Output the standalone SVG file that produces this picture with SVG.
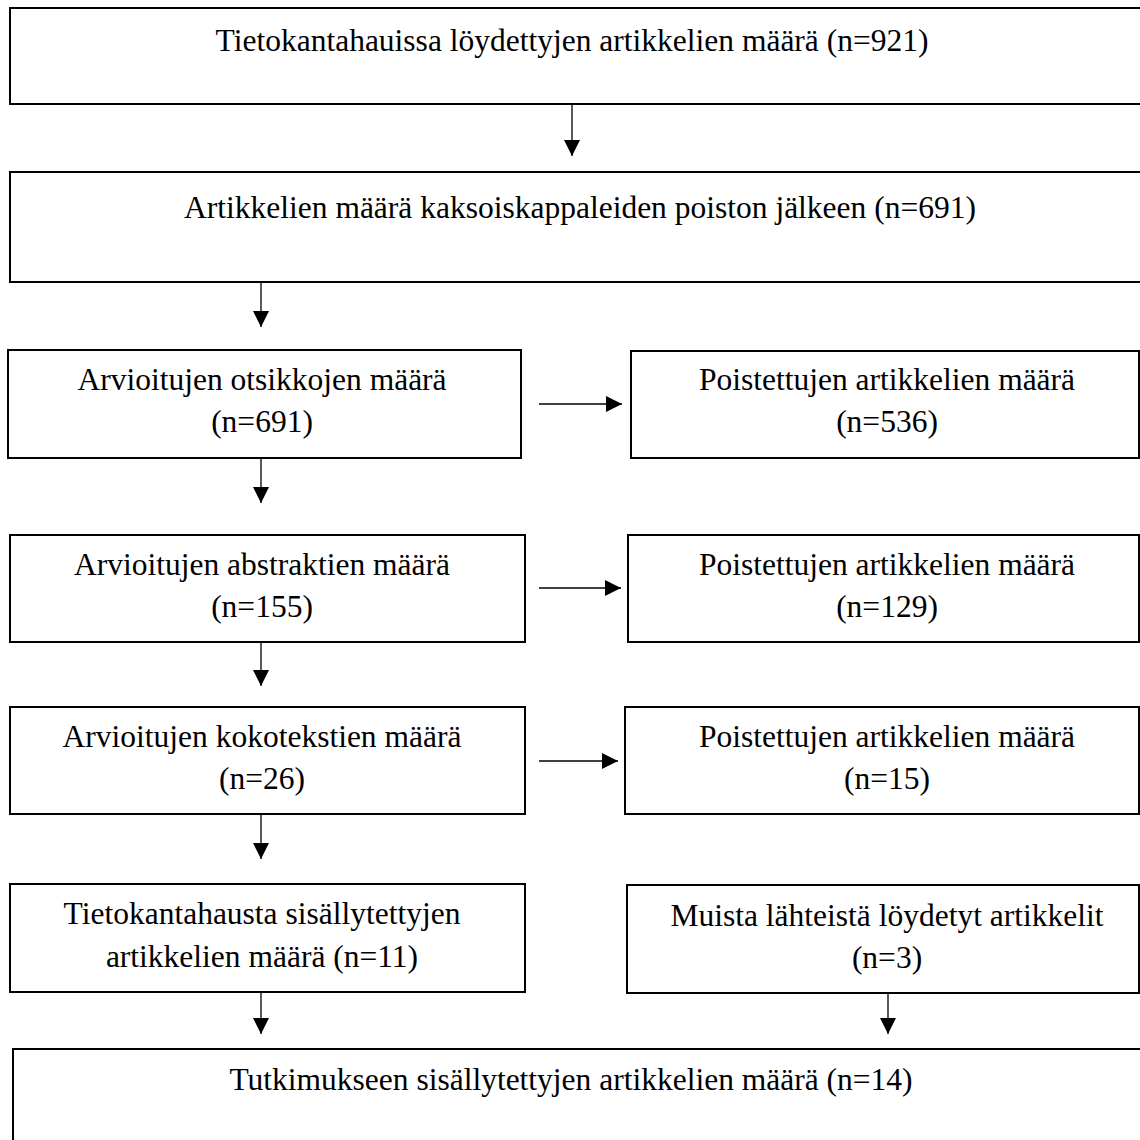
<svg xmlns="http://www.w3.org/2000/svg" width="1140" height="1140" viewBox="0 0 1140 1140">
<defs>
<style>
.box{fill:#fff;stroke:#000;stroke-width:2}
.t{font-family:"Liberation Serif","Times New Roman",serif;font-size:31.5px;fill:#000;text-anchor:middle}
.c{stroke:#000;stroke-width:1.3;fill:none}
</style>
<marker id="ah" markerWidth="16" markerHeight="16" refX="16" refY="8" orient="auto" markerUnits="userSpaceOnUse">
<path d="M0,0 L16,8 L0,16 Z" fill="#000"/>
</marker>
</defs>
<rect width="1140" height="1140" fill="#fff"/>
<g id="n1"><rect class="box" x="10" y="8" width="1140" height="96"/><text class="t" x="572" y="51">Tietokantahauissa löydettyjen artikkelien määrä (n=921)</text></g>
<g id="n2"><rect class="box" x="10" y="172" width="1140" height="110"/><text class="t" x="580" y="218">Artikkelien määrä kaksoiskappaleiden poiston jälkeen (n=691)</text></g>
<g id="n3"><rect class="box" x="8" y="350" width="513" height="108"/><text class="t" x="262" y="390">Arvioitujen otsikkojen määrä</text><text class="t" x="262" y="432">(n=691)</text></g>
<g id="n3r"><rect class="box" x="631" y="351" width="508" height="107"/><text class="t" x="887" y="390">Poistettujen artikkelien määrä</text><text class="t" x="887" y="432">(n=536)</text></g>
<g id="n4"><rect class="box" x="10" y="535" width="515" height="107"/><text class="t" x="262" y="575">Arvioitujen abstraktien määrä</text><text class="t" x="262" y="617">(n=155)</text></g>
<g id="n4r"><rect class="box" x="628" y="535" width="511" height="107"/><text class="t" x="887" y="575">Poistettujen artikkelien määrä</text><text class="t" x="887" y="617">(n=129)</text></g>
<g id="n5"><rect class="box" x="10" y="707" width="515" height="107"/><text class="t" x="262" y="747">Arvioitujen kokotekstien määrä</text><text class="t" x="262" y="789">(n=26)</text></g>
<g id="n5r"><rect class="box" x="625" y="707" width="514" height="107"/><text class="t" x="887" y="747">Poistettujen artikkelien määrä</text><text class="t" x="887" y="789">(n=15)</text></g>
<g id="n6"><rect class="box" x="10" y="884" width="515" height="108"/><text class="t" x="262" y="924">Tietokantahausta sisällytettyjen</text><text class="t" x="262" y="967">artikkelien määrä (n=11)</text></g>
<g id="n6r"><rect class="box" x="627" y="885" width="512" height="108"/><text class="t" x="887" y="926">Muista lähteistä löydetyt artikkelit</text><text class="t" x="887" y="968">(n=3)</text></g>
<g id="n7"><rect class="box" x="13" y="1049" width="1140" height="110"/><text class="t" x="571" y="1090">Tutkimukseen sisällytettyjen artikkelien määrä (n=14)</text></g>
<g id="connectors">
<line class="c" x1="572" y1="104" x2="572" y2="156" marker-end="url(#ah)"/>
<line class="c" x1="261" y1="282" x2="261" y2="327" marker-end="url(#ah)"/>
<line class="c" x1="539" y1="404" x2="622" y2="404" marker-end="url(#ah)"/>
<line class="c" x1="261" y1="458" x2="261" y2="503" marker-end="url(#ah)"/>
<line class="c" x1="539" y1="588" x2="621" y2="588" marker-end="url(#ah)"/>
<line class="c" x1="261" y1="642" x2="261" y2="686" marker-end="url(#ah)"/>
<line class="c" x1="539" y1="761" x2="618" y2="761" marker-end="url(#ah)"/>
<line class="c" x1="261" y1="814" x2="261" y2="859" marker-end="url(#ah)"/>
<line class="c" x1="261" y1="992" x2="261" y2="1034" marker-end="url(#ah)"/>
<line class="c" x1="888" y1="993" x2="888" y2="1034" marker-end="url(#ah)"/>
</g>
</svg>
